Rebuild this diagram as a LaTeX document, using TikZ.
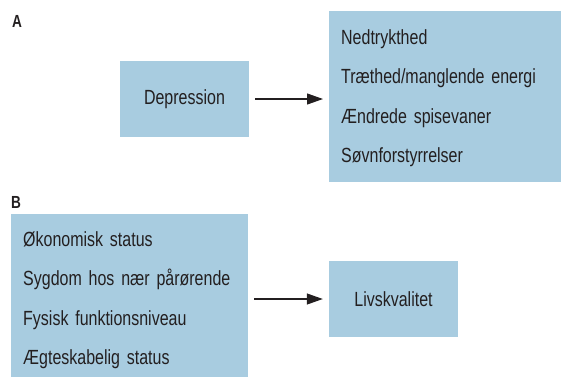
\documentclass[tikz,border=0pt]{standalone}
\usepackage{fontspec}
\setmainfont{Liberation Sans}[FakeStretch=0.78]
\usetikzlibrary{arrows.meta,positioning}
\definecolor{boxblue}{HTML}{A8CCE0}
\definecolor{inkgray}{HTML}{231F20}
\tikzset{
  box/.style={fill=boxblue, text=inkgray, inner sep=0pt,
    font=\fontsize{20.5}{39.6}\selectfont},
  listbox/.style={box, align=left, inner xsep=12pt, anchor=north west},
  panel/.style={text=inkgray, inner sep=0pt, anchor=north west,
    font=\fontsize{17.5}{17.5}\selectfont\bfseries},
  link/.style={draw=inkgray, line width=1.2pt, -{Triangle[length=16pt,width=11pt]}}
}
\begin{document}
\begin{tikzpicture}[x=1pt,y=-1pt]
    \useasboundingbox (0,0) rectangle (562,378);
    % panel A
    \node[panel] (labA) at (12,15) {A};
    \node[box, minimum width=129pt, minimum height=76pt] (dep) at (184.5,99) {Depression};
    \node[listbox, text width=208pt, minimum height=171pt, text height=18pt] (sym) at (329,11)
        {Nedtrykthed\\Træthed/manglende energi\\Ændrede spisevaner\\Søvnforstyrrelser};
    \draw[link] ([xshift=6pt]dep.east) -- ([xshift=-6pt]dep.east -| sym.west);
    % panel B
    \node[panel] (labB) at (11,196) {B};
    \node[listbox, text width=213pt, minimum height=163pt, text height=24pt] (fac) at (11,214)
        {Økonomisk status\\Sygdom hos nær pårørende\\Fysisk funktionsniveau\\Ægteskabelig status};
    \node[box, minimum width=129pt, minimum height=76pt] (liv) at (393.5,299) {Livskvalitet};
    \draw[link] ([xshift=6pt]fac.east |- liv.west) -- ([xshift=-6pt]liv.west);
\end{tikzpicture}
\end{document}
